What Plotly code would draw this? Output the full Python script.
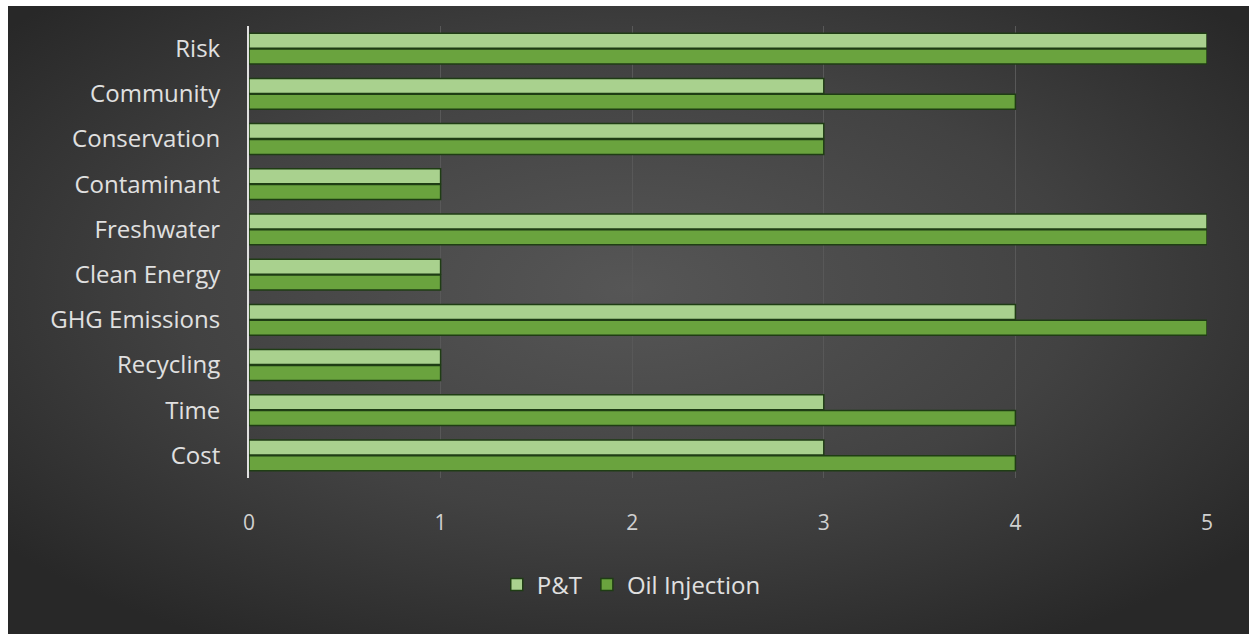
import base64
import plotly.graph_objects as go

categories = ["Risk", "Community", "Conservation", "Contaminant", "Freshwater",
              "Clean Energy", "GHG Emissions", "Recycling", "Time", "Cost"]
pt_values = [5, 3, 3, 1, 5, 1, 4, 1, 3, 3]
oil_values = [5, 4, 3, 1, 5, 1, 5, 1, 4, 4]
x_ticks = [0, 1, 2, 3, 4, 5]

W, H = 1249, 634
L, R, T, B = 249, 42, 26, 156
pw, ph = W - L - R, H - T - B

svg = (
    '<svg xmlns="http://www.w3.org/2000/svg" width="1241" height="628" preserveAspectRatio="none">'
    '<defs><radialGradient id="g" cx="50%" cy="45%" r="65%">'
    '<stop offset="0%" stop-color="#565656"/>'
    '<stop offset="55%" stop-color="#424242"/>'
    '<stop offset="100%" stop-color="#282828"/>'
    '</radialGradient></defs>'
    '<rect width="1241" height="628" fill="url(#g)"/></svg>'
)
src = "data:image/svg+xml;base64," + base64.b64encode(svg.encode()).decode()

fig = go.Figure()
fig.add_trace(go.Bar(
    y=categories, x=pt_values, name="P&T", orientation="h",
    marker=dict(color="#a9d18e", line=dict(color="#1f3d14", width=1.5)),
))
fig.add_trace(go.Bar(
    y=categories, x=oil_values, name="Oil Injection", orientation="h",
    marker=dict(color="#6aa33e", line=dict(color="#1f3d14", width=1.5)),
))

fig.update_layout(
    width=W, height=H,
    margin=dict(l=L, r=R, t=T, b=B),
    paper_bgcolor="white",
    plot_bgcolor="rgba(0,0,0,0)",
    barmode="group",
    bargap=0.3,
    bargroupgap=0.05,
    font=dict(family="Open Sans, sans-serif", color="#dcdcdc", size=20),
    images=[dict(
        source=src, xref="paper", yref="paper",
        x=(8 - L) / pw, y=(H - B - 6) / ph,
        sizex=(W - 8) / pw, sizey=(H - 6) / ph,
        sizing="stretch", layer="below", xanchor="left", yanchor="top",
    )],
    xaxis=dict(
        range=[0, 5], tickvals=x_ticks, ticktext=[str(v) for v in x_ticks],
        showgrid=True, gridcolor="#585858", gridwidth=1,
        zeroline=False, showline=False, ticks="",
        ticklabelstandoff=30,
        tickfont=dict(size=21, color="#d0d0d0"),
    ),
    yaxis=dict(
        categoryorder="array", categoryarray=categories,
        autorange="reversed",
        showgrid=False, zeroline=False,
        showline=True, linecolor="#e0e0e0", linewidth=2,
        ticks="", ticklabelstandoff=22,
        tickfont=dict(size=24, color="#e0e0e0"),
    ),
    legend=dict(
        orientation="h", x=0.399, xanchor="center",
        y=(H - B - 585) / ph, yanchor="middle",
        font=dict(size=24, color="#e0e0e0"),
        bgcolor="rgba(0,0,0,0)",
    ),
    showlegend=True,
)

fig.write_html("out.html")
